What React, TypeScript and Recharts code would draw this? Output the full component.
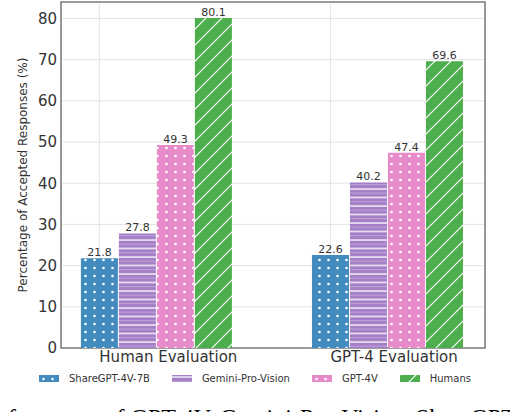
import React from 'react';
import { BarChart, Bar, XAxis, YAxis, CartesianGrid, LabelList, Legend, ReferenceArea } from 'recharts';

const categories = ['Human Evaluation', 'GPT-4 Evaluation'];
const shareGpt = [21.8, 22.6];
const gemini = [27.8, 40.2];
const gpt4v = [49.3, 47.4];
const humans = [80.1, 69.6];
const yTicks = [0, 10, 20, 30, 40, 50, 60, 70, 80];

const series = [
    { key: 'sharegpt', name: 'ShareGPT-4V-7B', values: shareGpt, color: '#418bbf', pattern: 'dots' },
    { key: 'gemini', name: 'Gemini-Pro-Vision', values: gemini, color: '#a47ec7', pattern: 'hlines' },
    { key: 'gpt4v', name: 'GPT-4V', values: gpt4v, color: '#e78bcb', pattern: 'dots' },
    { key: 'humans', name: 'Humans', values: humans, color: '#4cae4c', pattern: 'diag' },
];

// group centres sit on 0 and 1; ticks/grid sit on the first bar of each group
const data = categories.map((c, i) => {
    const row: Record<string, number | string> = { x: i, name: c };
    series.forEach(s => { row[s.key] = s.values[i]; });
    return row;
});
const xDomain = [-0.413, 1.422];
const xTicks = [-0.247, 0.753];
const yMax = 84;

const font = '"DejaVu Sans", sans-serif';
const textColor = '#333333';

function Patterns() {
    return (
        <defs>
            {series.map(s => (
                <pattern key={s.key} id={`pat-${s.key}`} patternUnits="userSpaceOnUse"
                    width={s.pattern === 'diag' ? 16 : s.pattern === 'hlines' ? 8 : 9}
                    height={s.pattern === 'diag' ? 16 : s.pattern === 'hlines' ? 8.5 : 8}>
                    <rect x={0} y={0} width={16} height={16} fill={s.color} />
                    {s.pattern === 'dots' && <circle cx={4.5} cy={4} r={1.3} fill="#ffffff" />}
                    {s.pattern === 'hlines' && (
                        <>
                            <line x1={0} y1={2} x2={8} y2={2} stroke="#ffffff" strokeWidth={1.3} />
                            <line x1={0} y1={6.2} x2={8} y2={6.2} stroke="#ffffff" strokeOpacity={0.3} strokeWidth={1} />
                        </>
                    )}
                    {s.pattern === 'diag' && (
                        <path d="M0,16 L16,0 M-4,4 L4,-4 M12,20 L20,12" stroke="#ffffff" strokeWidth={1.2} />
                    )}
                </pattern>
            ))}
        </defs>
    );
}

function CategoryTick(props: any) {
    const { x, y, index } = props;
    return (
        <text x={x} y={y + 14} textAnchor="start" fontSize={15} fontFamily={font} fill={textColor}>
            {categories[index]}
        </text>
    );
}

function LegendRow() {
    return (
        <div style={{ display: 'flex', justifyContent: 'center', alignItems: 'center', gap: 22, fontFamily: font, fontSize: 10, color: textColor }}>
            {series.map(s => (
                <div key={s.key} style={{ display: 'flex', alignItems: 'center', gap: 10 }}>
                    <svg width={20} height={7}>
                        <rect x={0} y={0} width={20} height={7} fill={`url(#pat-${s.key})`} />
                    </svg>
                    <span>{s.name}</span>
                </div>
            ))}
        </div>
    );
}

export default function App() {
    return (
        <div style={{ position: 'absolute', left: 0, top: 0, width: 510, height: 412, overflow: 'hidden', background: '#ffffff' }}>
            <BarChart width={510} height={412} data={data} margin={{ top: 2, right: 25, bottom: 34, left: 1 }} barSize={37} barGap={1}>
                <Patterns />
                <CartesianGrid stroke="#e3e3e3" strokeWidth={1} />
                <XAxis dataKey="x" type="number" domain={xDomain} ticks={xTicks} allowDataOverflow height={30}
                    axisLine={false} tickLine={false} tickSize={0} tickMargin={0} tick={<CategoryTick />} interval={0} />
                <YAxis type="number" domain={[0, yMax]} ticks={yTicks} width={60} axisLine={false} tickLine={false}
                    tickSize={0} tickMargin={4} allowDataOverflow
                    tick={{ fontSize: 15, fontFamily: font, fill: textColor }}
                    label={{ value: 'Percentage of Accepted Responses (%)', angle: -90, position: 'center', dx: -8, fontSize: 12, fontFamily: font, fill: textColor }} />
                {series.map(s => (
                    <Bar key={s.key} dataKey={s.key} name={s.name} fill={`url(#pat-${s.key})`} isAnimationActive={false}>
                        <LabelList dataKey={s.key} position="top" offset={2} fontSize={11} fontFamily={font} fill={textColor}
                            formatter={(v: any) => Number(v).toFixed(1)} />
                    </Bar>
                ))}
                <ReferenceArea x1={xDomain[0]} x2={xDomain[1]} y1={0} y2={yMax} fill="none" stroke="#808080" strokeWidth={1.6} ifOverflow="extendDomain" />
                <Legend layout="horizontal" verticalAlign="middle" align="center" content={() => <LegendRow />}
                    wrapperStyle={{ top: 373, left: 0, width: 510 }} />
            </BarChart>
            <div style={{ position: 'absolute', left: 8, top: 405, whiteSpace: 'nowrap', fontFamily: '"Liberation Serif", serif', fontSize: 24, lineHeight: 1, color: '#000' }}>
                formance of GPT-4V, Gemini-Pro-Vision, ShareGPT-4V
            </div>
        </div>
    );
}
